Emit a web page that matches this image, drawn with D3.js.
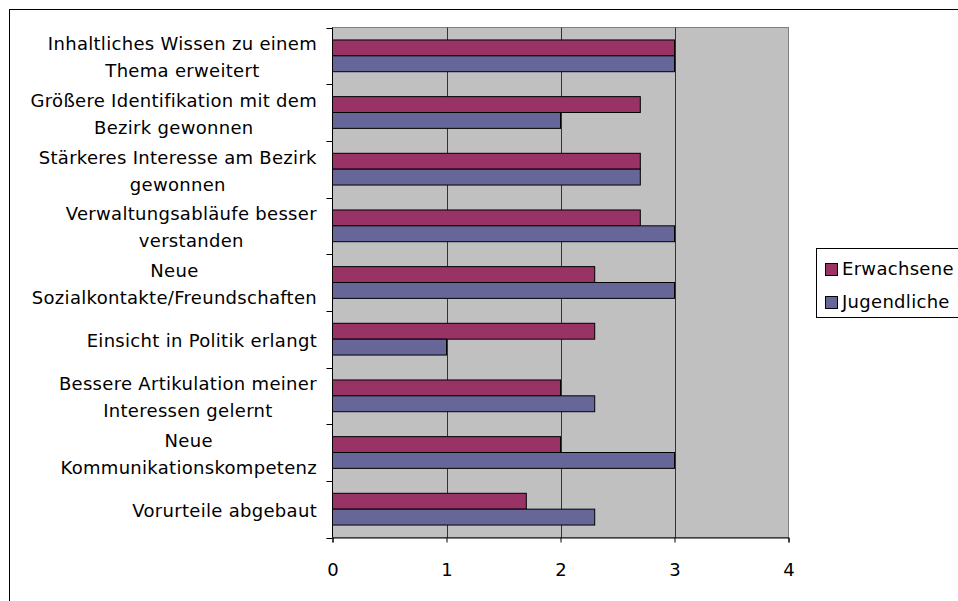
<!DOCTYPE html>
<html>
<head>
<meta charset="utf-8">
<script src="https://cdn.jsdelivr.net/npm/d3@7"></script>
<style>
body { margin: 0; background: #fff; }
svg text { font-family: "DejaVu Sans", Verdana, sans-serif; fill: #000; }
</style>
</head>
<body>
<script>
// categories, top to bottom
var categories = [
    ["Inhaltliches Wissen zu einem", "Thema erweitert"],
    ["Größere Identifikation mit dem", "Bezirk gewonnen"],
    ["Stärkeres Interesse am Bezirk", "gewonnen"],
    ["Verwaltungsabläufe besser", "verstanden"],
    ["Neue", "Sozialkontakte/Freundschaften"],
    ["Einsicht in Politik erlangt"],
    ["Bessere Artikulation meiner", "Interessen gelernt"],
    ["Neue", "Kommunikationskompetenz"],
    ["Vorurteile abgebaut"]
];
var seriesNames = ["Erwachsene", "Jugendliche"];
var erwachsene = [3, 2.7, 2.7, 2.7, 2.3, 2.3, 2, 2, 1.7];
var jugendliche = [3, 2, 2.7, 3, 3, 1, 2.3, 3, 2.3];
var xTicks = [0, 1, 2, 3, 4];
var colors = ["#993366", "#666699"];

var W = 958, H = 601;
var plot = {left: 332.5, right: 788.5, top: 27.5, bottom: 537.5};
var fontSize = "18px", letterSp = "0.3px";

var svg = d3.select("body").append("svg")
    .attr("width", W)
    .attr("height", H);

// outer frame
svg.append("rect")
    .attr("x", 9.5).attr("y", 9.5)
    .attr("width", 1000).attr("height", 700)
    .attr("fill", "none")
    .attr("stroke", "#000")
    .attr("stroke-width", 1);

var x = d3.scaleLinear().domain([0, 4]).range([plot.left, plot.right]);
var y = d3.scaleBand().domain(d3.range(categories.length)).range([plot.top, plot.bottom]).paddingInner(0.44).paddingOuter(0.22);
var ySub = d3.scaleBand().domain([0, 1]).range([0, y.bandwidth()]);

// plot background
svg.append("rect")
    .attr("x", plot.left).attr("y", plot.top)
    .attr("width", plot.right - plot.left).attr("height", plot.bottom - plot.top)
    .attr("fill", "#c0c0c0")
    .attr("stroke", "#808080");

// grid lines
svg.selectAll("line.grid")
    .data([1, 2, 3])
    .enter().append("line")
    .attr("class", "grid")
    .attr("x1", d => Math.round(x(d)) + 0.5).attr("x2", d => Math.round(x(d)) + 0.5)
    .attr("y1", plot.top).attr("y2", plot.bottom)
    .attr("stroke", "#333")
    .attr("stroke-width", 1);

// bars
var series = [erwachsene, jugendliche];
series.forEach(function(vals, s){
    svg.selectAll("rect.s" + s)
        .data(vals)
        .enter().append("rect")
        .attr("class", "s" + s)
        .attr("x", plot.left)
        .attr("y", (d, i) => y(i) + ySub(s))
        .attr("width", d => x(d) - plot.left)
        .attr("height", ySub.bandwidth())
        .attr("fill", colors[s])
        .attr("stroke", "#000")
        .attr("stroke-width", 1);
});

// x axis
var xAxis = d3.axisBottom(x).tickValues(xTicks).tickSize(5).tickPadding(21).tickFormat(d3.format("d"));
var gx = svg.append("g")
    .attr("transform", "translate(0," + plot.bottom + ")")
    .call(xAxis);
gx.select(".domain").attr("stroke", "#000");
gx.selectAll(".tick line").attr("stroke", "#000");
gx.selectAll("text").style("font-size", fontSize).style("font-family", "DejaVu Sans");

// y axis (category ticks at band boundaries)
var step = (plot.bottom - plot.top) / categories.length;
var yBounds = d3.range(categories.length + 1).map(i => plot.top + i * step);
svg.append("line")
    .attr("x1", plot.left).attr("x2", plot.left)
    .attr("y1", plot.top).attr("y2", plot.bottom)
    .attr("stroke", "#000");
svg.selectAll("line.ytick")
    .data(yBounds)
    .enter().append("line")
    .attr("class", "ytick")
    .attr("x1", plot.left - 6).attr("x2", plot.left)
    .attr("y1", d => Math.round(d) + 0.5).attr("y2", d => Math.round(d) + 0.5)
    .attr("stroke", "#000");

// category labels: lines centred in a block, block right-aligned to the axis
var labelRight = 317, lineH = 27;
categories.forEach(function(lines, i){
    var c = plot.top + (i + 0.5) * step;
    var g = svg.append("g");
    var texts = lines.map(function(t, k){
        return g.append("text")
            .attr("text-anchor", "middle")
            .attr("y", c + 8 + (k - (lines.length - 1) / 2) * lineH)
            .style("font-size", fontSize)
            .style("letter-spacing", letterSp)
            .text(t);
    });
    var maxW = d3.max(texts, t => t.node().getBBox().width);
    texts.forEach(t => t.attr("x", labelRight - maxW / 2));
});

// legend
svg.append("rect")
    .attr("x", 816.5).attr("y", 248.5)
    .attr("width", 200).attr("height", 69)
    .attr("fill", "#fff")
    .attr("stroke", "#000");
seriesNames.forEach(function(name, s){
    var ly = 263 + s * 33;
    svg.append("rect")
        .attr("x", 825.5).attr("y", ly + 0.5)
        .attr("width", 12).attr("height", 12)
        .attr("fill", colors[s])
        .attr("stroke", "#000");
    svg.append("text")
        .attr("x", 842).attr("y", ly + 12)
        .style("font-size", fontSize)
        .style("letter-spacing", letterSp)
        .text(name);
});
</script>
</body>
</html>
